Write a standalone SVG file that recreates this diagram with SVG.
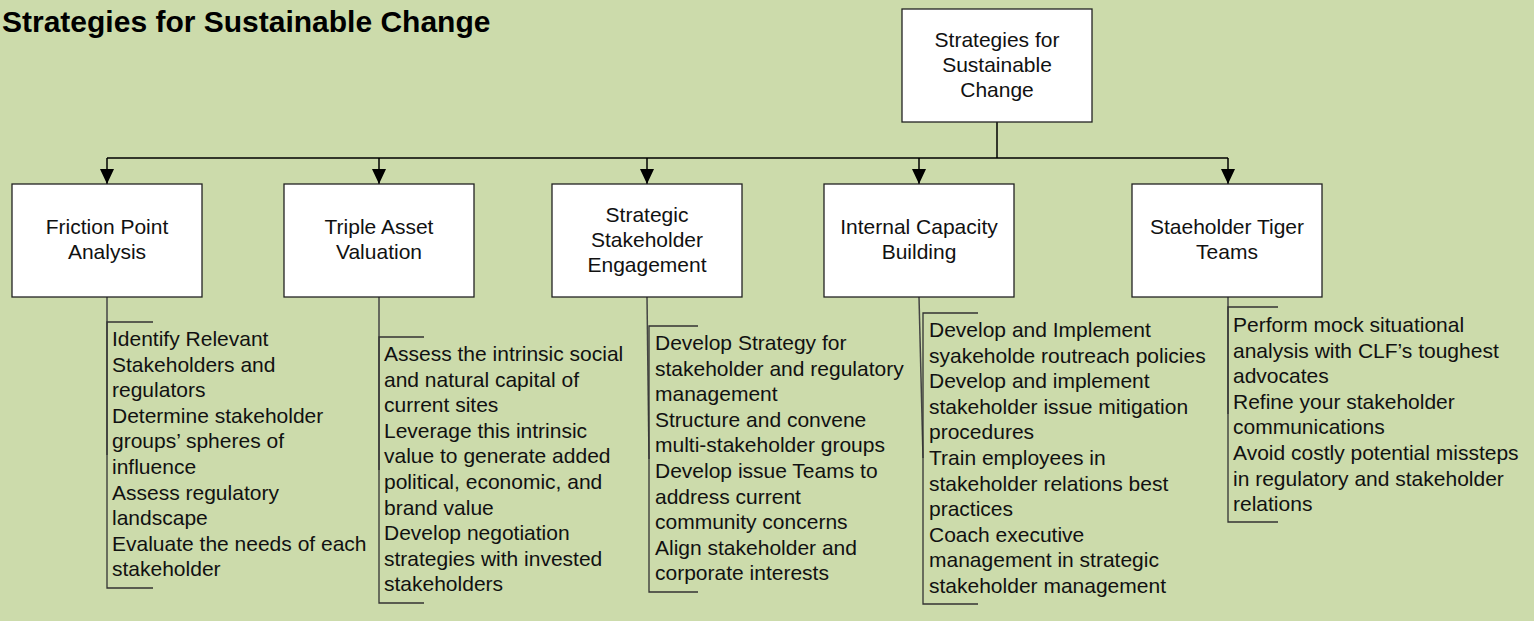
<svg xmlns="http://www.w3.org/2000/svg" width="1534" height="621" viewBox="0 0 1534 621">
<defs>
<marker id="arr" markerWidth="15" markerHeight="14" refX="15" refY="7" orient="auto" markerUnits="userSpaceOnUse" viewBox="0 0 15 14">
<path d="M0,0 L15,7 L0,14 Z" fill="#000"/>
</marker>
</defs>
<style>
.bg{fill:#CCDBAB}
.box{fill:#fff;stroke:#222;stroke-width:1.3}
.bt{font-family:"Liberation Sans",Arial,sans-serif;font-size:21px;fill:#111;text-anchor:middle}
.lt{font-family:"Liberation Sans",Arial,sans-serif;font-size:21px;fill:#111}
.title{font-family:"Liberation Sans",Arial,sans-serif;font-size:30px;font-weight:bold;fill:#000}
.bus{fill:none;stroke:#000;stroke-width:1.5}
.con{fill:none;stroke:#444;stroke-width:1.5}
.br{fill:none;stroke:#333;stroke-width:1.3}
</style>
<rect class="bg" x="0" y="0" width="1534" height="621"/>
<text class="title" x="2" y="32">Strategies for Sustainable Change</text>

<g id="connectors">
<path class="bus" d="M997,122 V158"/>
<path class="bus" d="M107,158 H1228"/>
<path class="bus" d="M107,158 V184" marker-end="url(#arr)"/>
<path class="bus" d="M379,158 V184" marker-end="url(#arr)"/>
<path class="bus" d="M647,158 V184" marker-end="url(#arr)"/>
<path class="bus" d="M919,158 V184" marker-end="url(#arr)"/>
<path class="bus" d="M1228,158 V184" marker-end="url(#arr)"/>
<path class="con" d="M107,297 V455"/>
<path class="con" d="M379,297 V470"/>
<path class="con" d="M647,297 L649,459"/>
<path class="con" d="M919,297 L923,458"/>
<path class="con" d="M1228,297 V414"/>
</g>

<g id="root">
<rect class="box" x="902" y="9" width="190" height="113"/>
<text class="bt" x="997" y="47">Strategies for</text>
<text class="bt" x="997" y="72">Sustainable</text>
<text class="bt" x="997" y="97">Change</text>
</g>

<g id="friction">
<rect class="box" x="12" y="184" width="190" height="113"/>
<text class="bt" x="107" y="234">Friction Point</text>
<text class="bt" x="107" y="259">Analysis</text>
</g>
<g id="triple">
<rect class="box" x="284" y="184" width="190" height="113"/>
<text class="bt" x="379" y="234">Triple Asset</text>
<text class="bt" x="379" y="259">Valuation</text>
</g>
<g id="strategic">
<rect class="box" x="552" y="184" width="190" height="113"/>
<text class="bt" x="647" y="222">Strategic</text>
<text class="bt" x="647" y="247">Stakeholder</text>
<text class="bt" x="647" y="272">Engagement</text>
</g>
<g id="internal">
<rect class="box" x="824" y="184" width="190" height="113"/>
<text class="bt" x="919" y="234">Internal Capacity</text>
<text class="bt" x="919" y="259">Building</text>
</g>
<g id="tiger">
<rect class="box" x="1132" y="184" width="190" height="113"/>
<text class="bt" x="1227" y="234">Staeholder Tiger</text>
<text class="bt" x="1227" y="259">Teams</text>
</g>

<g id="friction-list">
<path class="br" d="M153,322 H107 V588 H153"/>
<text class="lt" y="346">
<tspan x="112">Identify Relevant</tspan>
<tspan x="112" dy="25.6">Stakeholders and</tspan>
<tspan x="112" dy="25.6">regulators</tspan>
<tspan x="112" dy="25.6">Determine stakeholder</tspan>
<tspan x="112" dy="25.6">groups’ spheres of</tspan>
<tspan x="112" dy="25.6">influence</tspan>
<tspan x="112" dy="25.6">Assess regulatory</tspan>
<tspan x="112" dy="25.6">landscape</tspan>
<tspan x="112" dy="25.6">Evaluate the needs of each</tspan>
<tspan x="112" dy="25.6">stakeholder</tspan>
</text>
</g>

<g id="triple-list">
<path class="br" d="M424,337 H379 V603 H424"/>
<text class="lt" y="361">
<tspan x="384">Assess the intrinsic social</tspan>
<tspan x="384" dy="25.6">and natural capital of</tspan>
<tspan x="384" dy="25.6">current sites</tspan>
<tspan x="384" dy="25.6">Leverage this intrinsic</tspan>
<tspan x="384" dy="25.6">value to generate added</tspan>
<tspan x="384" dy="25.6">political, economic, and</tspan>
<tspan x="384" dy="25.6">brand value</tspan>
<tspan x="384" dy="25.6">Develop negotiation</tspan>
<tspan x="384" dy="25.6">strategies with invested</tspan>
<tspan x="384" dy="25.6">stakeholders</tspan>
</text>
</g>

<g id="strategic-list">
<path class="br" d="M698,326 H649 V592 H698"/>
<text class="lt" y="350">
<tspan x="655">Develop Strategy for</tspan>
<tspan x="655" dy="25.6">stakeholder and regulatory</tspan>
<tspan x="655" dy="25.6">management</tspan>
<tspan x="655" dy="25.6">Structure and convene</tspan>
<tspan x="655" dy="25.6">multi-stakeholder groups</tspan>
<tspan x="655" dy="25.6">Develop issue Teams to</tspan>
<tspan x="655" dy="25.6">address current</tspan>
<tspan x="655" dy="25.6">community concerns</tspan>
<tspan x="655" dy="25.6">Align stakeholder and</tspan>
<tspan x="655" dy="25.6">corporate interests</tspan>
</text>
</g>

<g id="internal-list">
<path class="br" d="M978,313 H923 V604 H978"/>
<text class="lt" y="337">
<tspan x="929">Develop and Implement</tspan>
<tspan x="929" dy="25.6">syakeholde routreach policies</tspan>
<tspan x="929" dy="25.6">Develop and implement</tspan>
<tspan x="929" dy="25.6">stakeholder issue mitigation</tspan>
<tspan x="929" dy="25.6">procedures</tspan>
<tspan x="929" dy="25.6">Train employees in</tspan>
<tspan x="929" dy="25.6">stakeholder relations best</tspan>
<tspan x="929" dy="25.6">practices</tspan>
<tspan x="929" dy="25.6">Coach executive</tspan>
<tspan x="929" dy="25.6">management in strategic</tspan>
<tspan x="929" dy="25.6">stakeholder management</tspan>
</text>
</g>

<g id="tiger-list">
<path class="br" d="M1278,307 H1228 V522 H1278"/>
<text class="lt" y="332">
<tspan x="1233">Perform mock situational</tspan>
<tspan x="1233" dy="25.6">analysis with CLF’s toughest</tspan>
<tspan x="1233" dy="25.6">advocates</tspan>
<tspan x="1233" dy="25.6">Refine your stakeholder</tspan>
<tspan x="1233" dy="25.6">communications</tspan>
<tspan x="1233" dy="25.6">Avoid costly potential missteps</tspan>
<tspan x="1233" dy="25.6">in regulatory and stakeholder</tspan>
<tspan x="1233" dy="25.6">relations</tspan>
</text>
</g>
</svg>
